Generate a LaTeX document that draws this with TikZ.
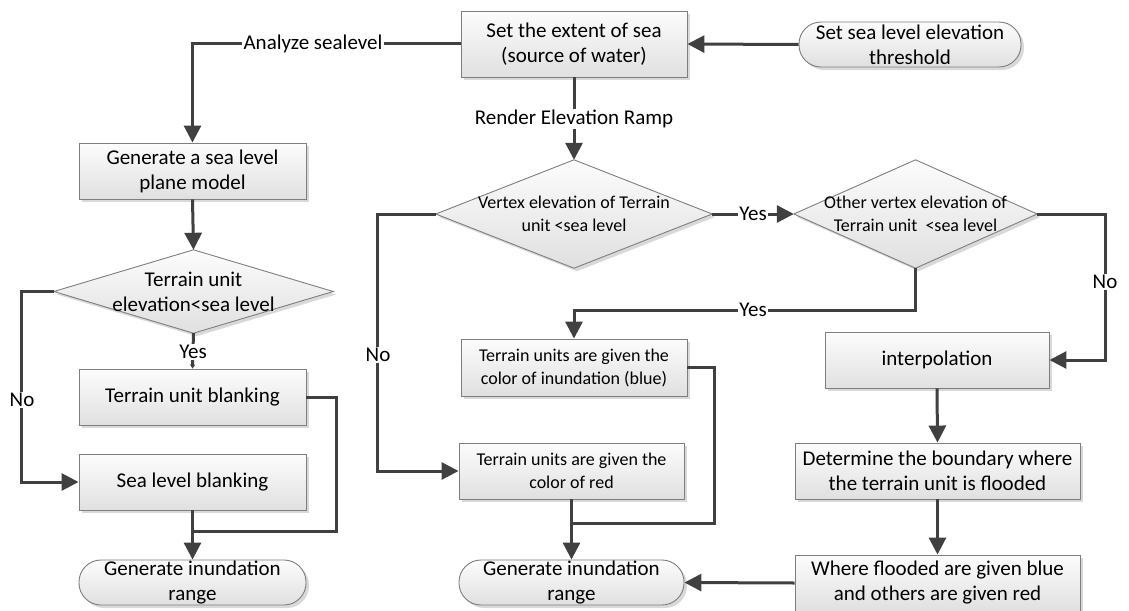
\documentclass[tikz,border=0pt]{standalone}
\usepackage{fontspec}
\setmainfont{Carlito}
\usetikzlibrary{arrows.meta,shadows}
\pgfdeclarelayer{background}
\pgfsetlayers{background,main}

\definecolor{linkc}{HTML}{404040}
\definecolor{edgec}{HTML}{7E7E7E}
\definecolor{topc}{HTML}{FCFCFC}
\definecolor{botc}{HTML}{E0E0E0}

\tikzset{
  bigtext/.style={font=\fontsize{21}{25}\selectfont},
  smalltext/.style={font=\fontsize{18}{23}\selectfont},
  boxshadow/.style={general shadow={fill=black!15, shadow xshift=3pt, shadow yshift=-3pt}},
  procbox/.style={rectangle, draw=edgec, line width=0.9pt,
    top color=topc, bottom color=botc, align=center, inner sep=0pt,
    boxshadow, bigtext},
  termbox/.style={procbox, rounded corners=22pt},
  decision/.style={rectangle, inner sep=0pt, align=center, bigtext},
  decfill/.style={draw=edgec, line width=0.9pt, top color=topc, bottom color=botc, boxshadow},
  conn/.style={draw=linkc, line width=3pt},
  arr/.style={conn, -{Triangle[length=17pt,width=17pt]}},
  lbl/.style={fill=white, inner sep=1.5pt, bigtext}
}

\begin{document}
\begin{tikzpicture}[x=1pt, y=-1pt]
\useasboundingbox (0,0) rectangle (1129,610);

% top row
\node[procbox, minimum width=226pt, minimum height=66pt] (ext) at (574,44)
  {Set the extent of sea\\(source of water)};
\node[termbox, minimum width=222pt, minimum height=45pt] (thr) at (910,44.5)
  {Set sea level elevation\\threshold};

% left column
\node[procbox, minimum width=227pt, minimum height=56pt] (gen) at (192.5,171)
  {Generate a sea level\\plane model};
\node[decision, minimum width=279pt, minimum height=83pt] (d1) at (193.5,291.5)
  {Terrain unit\\elevation<sea level};
\node[procbox, minimum width=227pt, minimum height=56pt] (tub) at (192.5,397)
  {Terrain unit blanking};
\node[procbox, minimum width=227pt, minimum height=56pt] (slb) at (192.5,482)
  {Sea level blanking};
\node[termbox, minimum width=227pt, minimum height=45pt] (gi1) at (192.5,582.5)
  {Generate inundation\\range};

% middle column
\node[decision, smalltext, minimum width=276pt, minimum height=108pt] (d2) at (574,214)
  {Vertex elevation of Terrain\\unit <sea level};
\node[procbox, smalltext, minimum width=226pt, minimum height=57pt] (blue) at (574,367.5)
  {Terrain units are given the\\color of inundation (blue)};
\node[procbox, smalltext, minimum width=225pt, minimum height=56pt] (red) at (571.5,471)
  {Terrain units are given the\\color of red};
\node[termbox, minimum width=225pt, minimum height=45pt] (gi2) at (571.5,582.5)
  {Generate inundation\\range};

% right column
\node[decision, smalltext, minimum width=243pt, minimum height=108pt] (d3) at (915.5,214)
  {Other vertex elevation of\\Terrain unit\ \ <sea level};
\node[procbox, minimum width=224pt, minimum height=56pt] (interp) at (937,360)
  {interpolation};
\node[procbox, minimum width=285pt, minimum height=56pt] (det) at (937.5,471)
  {Determine the boundary where\\the terrain unit is flooded};
\node[procbox, minimum width=285pt, minimum height=56pt] (where) at (937.5,583)
  {Where flooded are given blue\\and others are given red};

% diamond outlines behind the decision texts
\begin{pgfonlayer}{background}
  \foreach \d in {d1,d2,d3}
    \path[decfill] (\d.north) -- (\d.east) -- (\d.south) -- (\d.west) -- cycle;
\end{pgfonlayer}

% merge points
\coordinate (m1) at (192.5,531);
\coordinate (m2) at (571.5,523);

% connectors
\draw[arr] (thr.west) -- (ext.east);
\draw[arr] (ext.west) -| (gen.north);
\draw[arr] (gen.south) -- (d1.north);
\draw[conn, -{Triangle[length=4pt,width=5pt]}] (d1.south) -- (tub.north);
\draw[arr] (d1.west) -| ([xshift=-57pt]slb.west) -- (slb.west);
\draw[conn] (tub.east) -- ++(30,0) |- (m1);
\draw[arr] (slb.south) -- (gi1.north);

\draw[arr] (ext.south) -- (d2.north);
\draw[arr] (d2.east) -- (d3.west);
\draw[arr] (d3.south) -- ++(0,42) -| (blue.north);
\draw[arr] (d2.west) -- ++(-58,0) |- (red.west);
\draw[conn] (blue.east) -- ++(27,0) |- (m2);
\draw[arr] (red.south) -- (gi2.north);

\draw[arr] (d3.east) -- ++(68,0) |- (interp.east);
\draw[arr] (interp.south) -- (det.north);
\draw[arr] (det.south) -- (where.north);
\draw[arr] (where.west) -- (gi2.east);

% connector labels
\node[lbl] (lA) at (313,44) {Analyze sealevel};
\node[lbl] (lR) at (574,119) {Render Elevation Ramp};
\node[lbl] (lY1) at (193,352) {Yes};
\node[lbl] (lN1) at (22,400) {No};
\node[lbl] (lY2) at (753,214) {Yes};
\node[lbl] (lY3) at (753,310) {Yes};
\node[lbl] (lN2) at (378,355) {No};
\node[lbl] (lN3) at (1105,282) {No};
\end{tikzpicture}
\end{document}
